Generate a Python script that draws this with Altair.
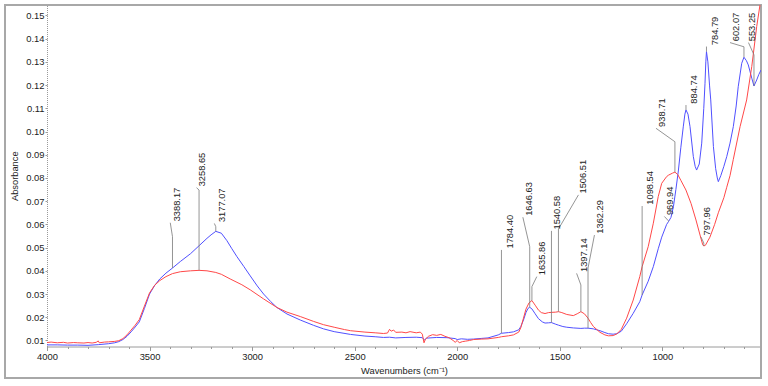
import altair as alt
import pandas as pd

FONT = "Liberation Sans, Arial, sans-serif"

# Blue spectrum (sample A): wavenumber (cm-1) and absorbance
blue_wn = [4000, 3950, 3900, 3850, 3800, 3750, 3700, 3670, 3650, 3630, 3610, 3590, 3570,
           3550, 3525, 3500, 3475, 3450, 3420, 3388.17, 3350, 3300, 3258.65, 3220, 3200,
           3177.07, 3150, 3123, 3100, 3074, 3040, 3009, 2975, 2944, 2910, 2879, 2830, 2765,
           2700, 2652, 2600, 2520, 2450, 2400, 2360, 2330, 2300, 2250, 2200, 2170, 2160,
           2150, 2100, 2050, 2010, 2000, 1980, 1950, 1920, 1880, 1850, 1800, 1784.40, 1750,
           1726, 1700, 1690, 1677, 1665, 1655, 1646.63, 1635.86, 1620, 1604, 1585, 1572,
           1555, 1540.58, 1520, 1506.51, 1485, 1466, 1434, 1397.14, 1380, 1362.29, 1336,
           1304, 1280, 1263, 1240, 1222, 1200, 1174, 1142, 1110, 1098.54, 1069, 1044, 1020,
           1003, 979, 969.94, 958, 946, 934, 922, 910, 898, 890, 884.74, 875, 865, 849, 840,
           833, 820, 808, 798, 792, 788, 784.79, 778, 770, 764, 751, 740, 732, 727, 715,
           700, 686, 670, 654, 640, 630, 613, 602.07, 590, 581, 564, 553.25, 540, 530, 519]
blue_abs = [0.0081, 0.0081, 0.0080, 0.0080, 0.0079, 0.0082, 0.0086, 0.0090, 0.0095, 0.0104,
            0.0118, 0.0137, 0.0158, 0.0180, 0.0238, 0.0300, 0.0337, 0.0365, 0.0390, 0.0412,
            0.0440, 0.0474, 0.0508, 0.0540, 0.0555, 0.0570, 0.0562, 0.0530, 0.0497, 0.0461,
            0.0418, 0.0378, 0.0335, 0.0300, 0.0268, 0.0242, 0.0214, 0.0188, 0.0165, 0.0150,
            0.0138, 0.0126, 0.0119, 0.0116, 0.0113, 0.0114, 0.0111, 0.0113, 0.0114, 0.0112,
            0.0102, 0.0110, 0.0113, 0.0112, 0.0108, 0.0104, 0.0107, 0.0105, 0.0106, 0.0109,
            0.0111, 0.0124, 0.0131, 0.0134, 0.0137, 0.0146, 0.0160, 0.0188, 0.0220, 0.0238,
            0.0243, 0.0236, 0.0215, 0.0194, 0.0180, 0.0175, 0.0176, 0.0177, 0.0170, 0.0166,
            0.0160, 0.0157, 0.0154, 0.0152, 0.0153, 0.0153, 0.0150, 0.0142, 0.0134, 0.0129,
            0.0127, 0.0129, 0.0140, 0.0172, 0.0217, 0.0267, 0.0296, 0.0355, 0.0418, 0.0495,
            0.0545, 0.0600, 0.0612, 0.0630, 0.0676, 0.0750, 0.0830, 0.0930, 0.1020, 0.1075,
            0.1093, 0.1075, 0.1021, 0.0892, 0.0850, 0.0834, 0.0860, 0.0950, 0.1100, 0.1208,
            0.1300, 0.1344, 0.1300, 0.1200, 0.1136, 0.0935, 0.0840, 0.0800, 0.0784, 0.0810,
            0.0850, 0.0892, 0.0950, 0.1021, 0.1110, 0.1193, 0.1294, 0.1320, 0.1305, 0.1287,
            0.1230, 0.1196, 0.1222, 0.1245, 0.1265]

# Red spectrum (sample B)
red_wn = [4000, 3980, 3950, 3920, 3900, 3870, 3850, 3820, 3800, 3780, 3760, 3750, 3745,
          3720, 3700, 3670, 3650, 3630, 3610, 3590, 3570, 3550, 3525, 3500, 3475, 3450,
          3420, 3388.17, 3350, 3300, 3258.65, 3220, 3177.07, 3150, 3107, 3050, 3009, 2944,
          2879, 2830, 2765, 2700, 2652, 2600, 2550, 2520, 2450, 2400, 2360, 2340, 2330,
          2322, 2310, 2300, 2270, 2250, 2230, 2200, 2180, 2170, 2162, 2155, 2140, 2120,
          2100, 2080, 2060, 2040, 2020, 2010, 2000, 1990, 1975, 1960, 1940, 1920, 1880,
          1850, 1800, 1784.40, 1750, 1726, 1700, 1690, 1677, 1665, 1650, 1635.86, 1620,
          1604, 1590, 1572, 1555, 1540.58, 1520, 1506.51, 1490, 1466, 1434, 1415, 1397.14,
          1380, 1362.29, 1350, 1336, 1304, 1280, 1263, 1240, 1222, 1200, 1174, 1142, 1110,
          1098.54, 1069, 1044, 1020, 1003, 979, 969.94, 950, 938.71, 925, 910, 885, 860,
          836, 815, 803, 797.96, 790, 768, 745, 727, 700, 686, 670, 654, 621, 589, 564,
          540, 524, 515]
red_abs = [0.0091, 0.0093, 0.0090, 0.0092, 0.0089, 0.0091, 0.0090, 0.0089, 0.0091, 0.0089,
           0.0092, 0.0098, 0.0090, 0.0093, 0.0094, 0.0096, 0.0099, 0.0108, 0.0124, 0.0145,
           0.0166, 0.0190, 0.0248, 0.0305, 0.0338, 0.0358, 0.0375, 0.0388, 0.0396, 0.0400,
           0.0402, 0.0400, 0.0393, 0.0385, 0.0365, 0.0340, 0.0318, 0.0279, 0.0242, 0.0222,
           0.0203, 0.0182, 0.0168, 0.0157, 0.0147, 0.0142, 0.0136, 0.0133, 0.0130, 0.0132,
           0.0148, 0.0140, 0.0145, 0.0135, 0.0136, 0.0133, 0.0138, 0.0133, 0.0136, 0.0127,
           0.0090, 0.0105, 0.0118, 0.0125, 0.0122, 0.0126, 0.0118, 0.0112, 0.0100, 0.0092,
           0.0100, 0.0090, 0.0095, 0.0097, 0.0100, 0.0104, 0.0106, 0.0107, 0.0113, 0.0116,
           0.0120, 0.0124, 0.0136, 0.0155, 0.0196, 0.0235, 0.0262, 0.0272, 0.0252, 0.0231,
           0.0220, 0.0216, 0.0220, 0.0221, 0.0222, 0.0224, 0.0220, 0.0212, 0.0207, 0.0215,
           0.0224, 0.0215, 0.0196, 0.0178, 0.0160, 0.0135, 0.0124, 0.0120, 0.0121, 0.0128,
           0.0148, 0.0196, 0.0274, 0.0375, 0.0418, 0.0504, 0.0605, 0.0720, 0.0777, 0.0806,
           0.0812, 0.0821, 0.0825, 0.0815, 0.0790, 0.0748, 0.0690, 0.0619, 0.0550, 0.0512,
           0.0507, 0.0510, 0.0545, 0.0600, 0.0650, 0.0715, 0.0760, 0.0810, 0.0880, 0.1021,
           0.1136, 0.1280, 0.1452, 0.1545, 0.1590]

# Peak annotations: label text, which spectrum it marks
peak_labels = ["3388.17", "3258.65", "3177.07", "1784.40", "1646.63", "1635.86", "1540.58",
               "1506.51", "1397.14", "1362.29", "1098.54", "969.94", "938.71", "884.74",
               "797.96", "784.79", "602.07", "553.25"]
peak_series = ["A", "B", "A", "A", "A", "B", "A", "B", "B", "A", "A", "A", "B", "A", "B",
               "A", "A", "A"]

# Leader layout for each annotation: knee height, end of the leader, text column
lead_knee = [0.0547, 0.0748, 0.0590, 0.0490, 0.0504, 0.0332, 0.0572, 0.0580, 0.0339,
             0.0412, 0.0679, 0.0615, 0.0956, 0.1114, 0.0520, 0.1366, 0.1365, 0.1330]
lead_end_wn = [3399, 3271, 3184, 1784.40, 1680, 1612, 1540.58, 1409, 1418, 1331, 1098.54,
               990, 1031, 884.74, 812, 784.79, 670, 580]
lead_end_abs = [0.0607, 0.0758, 0.0604, 0.0490, 0.0631, 0.0375, 0.0572, 0.0727, 0.0389,
                0.0554, 0.0679, 0.0634, 0.1014, 0.1114, 0.0546, 0.1366, 0.1383, 0.1383]
text_wn = [3365, 3242, 3147, 1743.6, 1648, 1587, 1513, 1386, 1384, 1304, 1062.4, 962.5,
           1001.5, 847, 780, 745.6, 643, 565]
TEXT_LIFT = 0.0006

series_color = {"A": "#5050ff", "B": "#ff4848"}

spectra = pd.DataFrame({
    "wavenumber": blue_wn + red_wn,
    "absorbance": blue_abs + red_abs,
    "sample": ["A"] * len(blue_wn) + ["B"] * len(red_wn),
})

lookup = {"A": dict(zip(blue_wn, blue_abs)), "B": dict(zip(red_wn, red_abs))}
leader_rows, text_rows = [], []
for i, lab in enumerate(peak_labels):
    wn = float(lab)
    base = lookup[peak_series[i]][wn]
    pts = [(wn, base), (wn, lead_knee[i]), (lead_end_wn[i], lead_end_abs[i])]
    for k, (px, py) in enumerate(pts):
        leader_rows.append({"peak": lab, "step": k, "wavenumber": px, "absorbance": py})
    text_rows.append({"peak": lab, "wavenumber": text_wn[i],
                      "absorbance": lead_end_abs[i] + TEXT_LIFT})
leaders = pd.DataFrame(leader_rows)
texts = pd.DataFrame(text_rows)

x_scale = alt.Scale(domain=[519, 4000], reverse=True, nice=False, zero=False)
y_scale = alt.Scale(domain=[0.0074, 0.1545], nice=False, zero=False)

x_axis = alt.Axis(
    values=list(range(600, 4001, 100)),
    labelExpr="datum.value % 500 === 0 ? datum.value : ''",
    tickSize={"condition": {"test": "datum.value % 500 === 0", "value": 4}, "value": 2},
    title="Wavenumbers (cm⁻¹)", titleFont=FONT, titleFontSize=9.3, titleFontWeight="normal",
    titleColor="#222", titleY=23.5, titleBaseline="middle",
    labelFont=FONT, labelFontSize=9.4, labelColor="#222", labelPadding=2,
    labelOverlap=False, domainColor="#9a9a9a", tickColor="#9a9a9a", grid=False,
    labelFlush=False,
)
y_axis = alt.Axis(
    values=[round(0.01 * i, 2) for i in range(1, 16)], format=".2f",
    title="Absorbance", titleFont=FONT, titleFontSize=9.3, titleFontWeight="normal",
    titleColor="#222", titleAngle=270, titleX=-33, titleY=170.75, titleAlign="center",
    titleBaseline="middle",
    labelFont=FONT, labelFontSize=9.4, labelColor="#222", labelPadding=1, tickSize=2,
    labelOverlap=False, labelBound=False, domainColor="#9a9a9a", domainDash=[1, 1],
    tickColor="#9a9a9a", grid=False,
)

X = alt.X("wavenumber:Q", scale=x_scale, axis=x_axis)
Y = alt.Y("absorbance:Q", scale=y_scale, axis=y_axis)

lines = alt.Chart(spectra).mark_line(strokeWidth=1, clip=True).encode(
    x=X, y=Y,
    color=alt.Color("sample:N", scale=alt.Scale(domain=list(series_color),
                                                range=list(series_color.values())),
                    legend=None),
    detail="sample:N",
)

leader_lines = alt.Chart(leaders).mark_line(color="#7a7a7a", strokeWidth=0.8).encode(
    x=X, y=Y, detail="peak:N", order="step:O",
)

peak_text = alt.Chart(texts).mark_text(
    angle=270, align="left", baseline="middle", font=FONT, fontSize=9.3, color="#222"
).encode(x=X, y=Y, text="peak:N")

frame = alt.Chart(alt.Data(values=[{}])).mark_rect(
    filled=False, stroke="#a8a8a8", strokeWidth=2
).encode(
    x=alt.value(-42), x2=alt.value(714), y=alt.value(0), y2=alt.value(373)
)

chart = alt.layer(frame, lines, leader_lines, peak_text).properties(
    width=714, height=341.5,
    autosize=alt.AutoSizeParams(type="none"),
    padding={"left": 47, "top": 5, "right": 7, "bottom": 39.5},
    background="white",
).configure_view(stroke=None).configure_axis(labelOverlap=False)

chart.save("out.html", embed_options={"renderer": "svg", "actions": False})
